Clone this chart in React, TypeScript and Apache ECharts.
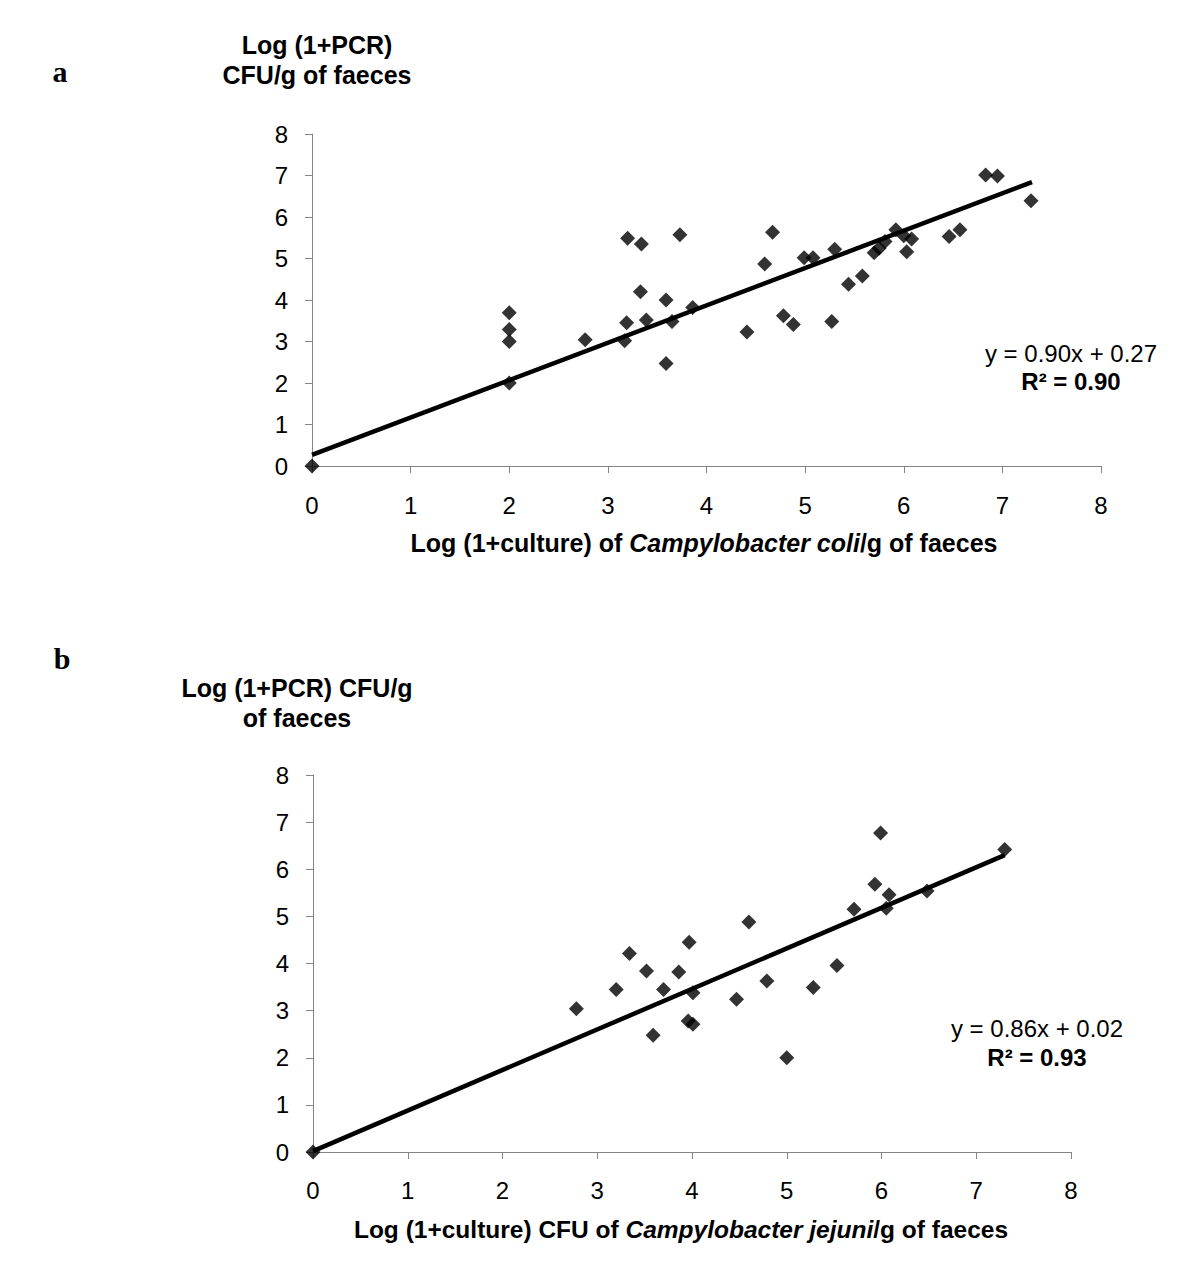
import React, { useEffect, useRef } from "react";
import * as echarts from "echarts";

// Panel a: Campylobacter coli
const xA = [0, 2.0, 2.0, 2.0, 2.0, 2.77, 3.2, 3.34, 3.73, 3.33, 3.59, 3.19, 3.17, 3.39, 3.65, 3.59, 3.86, 4.67, 4.59, 4.99, 5.08, 5.3, 5.44, 5.58, 4.41, 4.78, 4.88, 5.27, 5.7, 5.75, 5.81, 5.92, 6.0, 6.08, 6.03, 6.46, 6.57, 6.83, 6.95, 7.29];
const yA = [0, 3.69, 3.29, 3.0, 2.0, 3.04, 5.49, 5.35, 5.57, 4.2, 4.0, 3.45, 3.02, 3.52, 3.48, 2.47, 3.82, 5.63, 4.87, 5.02, 5.02, 5.22, 4.38, 4.58, 3.23, 3.62, 3.41, 3.48, 5.14, 5.25, 5.41, 5.69, 5.55, 5.47, 5.16, 5.53, 5.69, 7.01, 6.99, 6.39];
const trendAX = [0, 7.3];
const trendAY = [0.27, 6.84];

// Panel b: Campylobacter jejuni
const xB = [0, 2.78, 3.2, 3.34, 3.52, 3.59, 3.7, 3.86, 3.97, 4.01, 3.96, 4.01, 4.47, 4.6, 4.79, 5.0, 5.28, 5.53, 5.71, 5.93, 5.99, 6.05, 6.08, 6.48, 7.3];
const yB = [0, 3.04, 3.45, 4.21, 3.84, 2.48, 3.45, 3.82, 4.45, 3.38, 2.78, 2.71, 3.24, 4.88, 3.63, 2.0, 3.49, 3.96, 5.15, 5.68, 6.77, 5.17, 5.46, 5.54, 6.42];
const trendBX = [0, 7.3];
const trendBY = [0.02, 6.3];

const axisTicks = [0, 1, 2, 3, 4, 5, 6, 7, 8];

const FONT = "Liberation Sans, Arial, sans-serif";
const SERIF = "Liberation Serif, Times New Roman, serif";
const AXIS_COLOR = "#858585";

const zip = (xs: number[], ys: number[]) => xs.map((x, i) => [x, ys[i]]);

function makeAxis(gridIndex: number, margin: number) {
  return {
    type: "value",
    gridIndex,
    min: axisTicks[0],
    max: axisTicks[axisTicks.length - 1],
    interval: 1,
    splitLine: { show: false },
    axisLine: { show: true, onZero: false, lineStyle: { color: AXIS_COLOR, width: 1 } },
    axisTick: { show: true, inside: false, length: 7, lineStyle: { color: AXIS_COLOR, width: 1 } },
    axisLabel: { color: "#000", fontFamily: FONT, fontSize: 24, margin },
  };
}

export default function App() {
  const ref = useRef<HTMLDivElement>(null);
  useEffect(() => {
    document.body.style.margin = "0";
    const chart = echarts.init(ref.current!, null, { renderer: "svg" });
    const diamond = {
      type: "scatter",
      symbol: "diamond",
      symbolSize: 15,
      itemStyle: { color: "#000" },
      clip: false,
      z: 3,
    };
    const trend = {
      type: "line",
      symbol: "none",
      lineStyle: { color: "#000", width: 4.5 },
      z: 4,
      clip: false,
    };
    chart.setOption({
      animation: false,
      backgroundColor: "#fff",
      grid: [
        { left: 312, top: 134, width: 789, height: 332 },
        { left: 313, top: 775, width: 758, height: 377 },
      ],
      xAxis: [makeAxis(0, 27), makeAxis(1, 26)],
      yAxis: [makeAxis(0, 24), makeAxis(1, 24)],
      series: [
        { ...diamond, xAxisIndex: 0, yAxisIndex: 0, data: zip(xA, yA) },
        { ...trend, xAxisIndex: 0, yAxisIndex: 0, data: zip(trendAX, trendAY) },
        { ...diamond, xAxisIndex: 1, yAxisIndex: 1, data: zip(xB, yB) },
        { ...trend, xAxisIndex: 1, yAxisIndex: 1, data: zip(trendBX, trendBY) },
      ],
      graphic: [
        { type: "text", x: 60, y: 71, style: { text: "a", font: `bold 30px ${SERIF}`, fill: "#000", align: "center", verticalAlign: "middle" } },
        { type: "text", x: 62, y: 658, style: { text: "b", font: `bold 30px ${SERIF}`, fill: "#000", align: "center", verticalAlign: "middle" } },
        { type: "text", x: 317, y: 45, style: { text: "Log (1+PCR)", font: `bold 25px ${FONT}`, fill: "#000", align: "center", verticalAlign: "middle" } },
        { type: "text", x: 317, y: 75, style: { text: "CFU/g of faeces", font: `bold 25px ${FONT}`, fill: "#000", align: "center", verticalAlign: "middle" } },
        { type: "text", x: 297, y: 688, style: { text: "Log (1+PCR) CFU/g", font: `bold 25px ${FONT}`, fill: "#000", align: "center", verticalAlign: "middle" } },
        { type: "text", x: 297, y: 718, style: { text: "of faeces", font: `bold 25px ${FONT}`, fill: "#000", align: "center", verticalAlign: "middle" } },
        {
          type: "text", x: 704, y: 543,
          style: {
            text: "{b|Log (1+culture) of }{i|Campylobacter coli}{b|/g of faeces}",
            align: "center", verticalAlign: "middle",
            rich: {
              b: { fontFamily: FONT, fontWeight: "bold", fontSize: 25, fill: "#000", color: "#000" },
              i: { fontFamily: FONT, fontWeight: "bold", fontStyle: "italic", fontSize: 25, fill: "#000", color: "#000" },
            },
          },
        },
        {
          type: "text", x: 681, y: 1229,
          style: {
            text: "{b|Log (1+culture) CFU of }{i|Campylobacter jejuni}{b|/g of faeces}",
            align: "center", verticalAlign: "middle",
            rich: {
              b: { fontFamily: FONT, fontWeight: "bold", fontSize: 24.5, fill: "#000", color: "#000" },
              i: { fontFamily: FONT, fontWeight: "bold", fontStyle: "italic", fontSize: 24.5, fill: "#000", color: "#000" },
            },
          },
        },
        { type: "text", x: 1071, y: 353, style: { text: "y = 0.90x + 0.27", font: `24px ${FONT}`, fill: "#000", align: "center", verticalAlign: "middle" } },
        { type: "text", x: 1071, y: 381, style: { text: "R² = 0.90", font: `bold 24px ${FONT}`, fill: "#000", align: "center", verticalAlign: "middle" } },
        { type: "text", x: 1037, y: 1028, style: { text: "y = 0.86x + 0.02", font: `24px ${FONT}`, fill: "#000", align: "center", verticalAlign: "middle" } },
        { type: "text", x: 1037, y: 1057, style: { text: "R² = 0.93", font: `bold 24px ${FONT}`, fill: "#000", align: "center", verticalAlign: "middle" } },
      ],
    });
    return () => chart.dispose();
  }, []);
  return <div ref={ref} style={{ width: 1200, height: 1280 }} />;
}
